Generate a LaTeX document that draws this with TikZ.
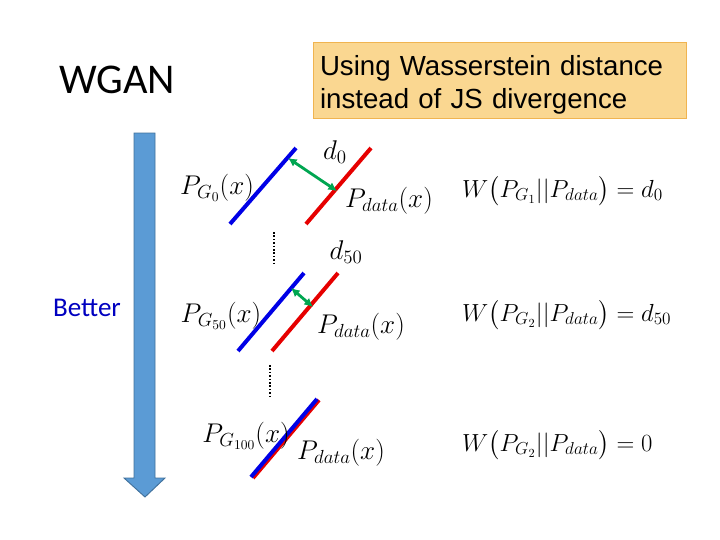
\documentclass[tikz,border=0pt]{standalone}
\usepackage{amsmath}
\usepackage{fix-cm}
\usepackage{fontspec}
\newfontfamily\calibri{Carlito}
\newfontfamily\arial{Liberation Sans}
\usepackage{tikz}
\usetikzlibrary{
    positioning,
    arrows.meta,
}
\definecolor{pgblue}{RGB}{0,0,230}
\definecolor{pdred}{RGB}{230,0,0}
\definecolor{distgreen}{RGB}{0,166,81}
\definecolor{notefill}{RGB}{250,215,145}
\definecolor{notedraw}{RGB}{240,180,80}
\definecolor{arrowfill}{RGB}{91,155,213}
\definecolor{arrowdraw}{RGB}{65,113,156}
\definecolor{betterblue}{RGB}{0,0,192}
\tikzset{
    % Distribution lines
    gen line/.style={line width=3.4pt, pgblue},
    data line/.style={line width=3.4pt, pdred},
    % Distance arrows
    dist arrow/.style={{Latex[length=2.6mm,width=2.6mm]}-{Latex[length=2.6mm,width=2.6mm]},
                       line width=2.4pt, distgreen},
    % Labels
    mathlabel/.style={font=\fontsize{23}{27}\selectfont, inner sep=0pt},
    eqlabel/.style={font=\fontsize{21}{25}\selectfont, inner sep=0pt, anchor=west},
    dots/.style={line width=1.3pt, dash pattern=on 1.3pt off 1.6pt},
}

\begin{document}
\begin{tikzpicture}[x=0.85pt, y=-0.85pt,
    note/.style={rectangle, draw=notedraw, fill=notefill, line width=0.8pt,
                 minimum width=317pt, minimum height=64pt, align=left,
                 text width=306pt, font=\arial\fontsize{23.5}{28}\selectfont},
]
    \useasboundingbox (0,0) rectangle (720,540);

    % Title and note
    \node[font=\calibri\fontsize{36}{40}\selectfont] (title) at (117,80) {WGAN};
    \node[note] (note) at (500,80.5) {\rule{0pt}{24pt}Using Wasserstein distance\\instead of JS divergence};

    % Big arrow
    \draw[fill=arrowfill, draw=arrowdraw, line width=0.8pt]
        (134,133) -- (155,133) -- (155,478) -- (165,478) -- (145,497)
        -- (124,478) -- (134,478) -- cycle;
    \node[font=\calibri\fontsize{23}{26}\selectfont, text=betterblue] (better) at (87,308) {Better};

    % Step 0
    \coordinate (g0a) at (230,224);
    \coordinate (g0b) at (296,148);
    \coordinate (r0a) at (306,224);
    \coordinate (r0b) at (371,148);
    \draw[gen line] (g0a) -- (g0b);
    \draw[data line] (r0a) -- (r0b);
    \coordinate (s0) at (288,158);
    \coordinate (e0) at (337,191);
    \draw[dist arrow] (s0) -- (e0);
    \node[mathlabel] (d0) at (335,152) {$d_0$};
    \node[mathlabel] (pg0) at (217,188) {$P_{G_0}(x)$};
    \node[mathlabel] (pd0) at (389,201) {$P_{data}(x)$};

    % Dots
    \coordinate (dot1a) at (274,232);
    \coordinate (dot1b) at (274,263);
    \draw[dots] (dot1a) -- (dot1b);

    % Step 50
    \coordinate (g50a) at (238,351);
    \coordinate (g50b) at (304,273);
    \coordinate (r50a) at (272,351);
    \coordinate (r50b) at (338,273);
    \draw[gen line] (g50a) -- (g50b);
    \draw[data line] (r50a) -- (r50b);
    \coordinate (s50) at (291,288);
    \coordinate (e50) at (313,307);
    \draw[dist arrow] (s50) -- (e50);
    \node[mathlabel] (d50) at (346,252) {$d_{50}$};
    \node[mathlabel] (pg50) at (221,316) {$P_{G_{50}}(x)$};
    \node[mathlabel] (pd50) at (361,327) {$P_{data}(x)$};

    % Dots
    \coordinate (dot2a) at (270,365);
    \coordinate (dot2b) at (270,396);
    \draw[dots] (dot2a) -- (dot2b);

    % Step 100
    \coordinate (g100a) at (251,477);
    \coordinate (g100b) at (317,399);
    \coordinate (r100a) at (253,478);
    \coordinate (r100b) at (319,400);
    \draw[data line] (r100a) -- (r100b);
    \draw[gen line] (g100a) -- (g100b);
    \node[mathlabel] (pg100) at (246,436) {$P_{G_{100}}(x)$};
    \node[mathlabel] (pd100) at (341,453) {$P_{data}(x)$};

    % Wasserstein distances
    \node[eqlabel] (w0) at (462,191) {$W\big(P_{G_1}||P_{data}\big) = d_0$};
    \node[eqlabel] (w50) at (462,315) {$W\big(P_{G_2}||P_{data}\big) = d_{50}$};
    \node[eqlabel] (w100) at (462,445) {$W\big(P_{G_2}||P_{data}\big) = 0$};
\end{tikzpicture}
\end{document}
